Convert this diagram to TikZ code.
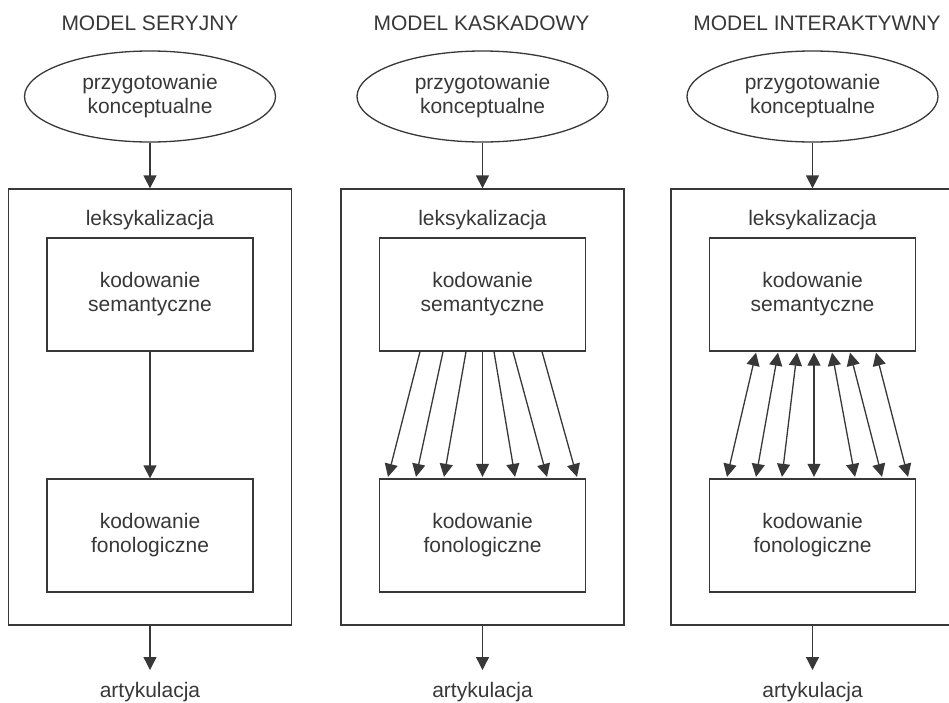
\documentclass[tikz,border=0pt]{standalone}
\usepackage{fontspec}
\setmainfont{Liberation Sans}
\usetikzlibrary{shapes.geometric,arrows.meta,calc}
\definecolor{ink}{HTML}{383838}
\begin{document}
\begin{tikzpicture}[x=1pt,y=-1pt,
  every node/.style={text=ink,font=\fontsize{21}{24}\selectfont},
  box/.style={draw=ink,line width=1.3pt,minimum width=206pt,minimum height=113pt,inner sep=0,align=center},
  outerbox/.style={draw=ink,line width=1.3pt,minimum width=283pt,minimum height=436pt,inner sep=0},
  oval/.style={ellipse,draw=ink,line width=1.3pt,minimum width=251pt,minimum height=91pt,inner sep=0,align=center},
  conn/.style={draw=ink,line width=1.3pt,-{Triangle[length=13pt,width=13pt]}},
  dconn/.style={draw=ink,line width=1.3pt,{Triangle[length=13pt,width=13pt]}-{Triangle[length=13pt,width=13pt]}},
  lbl/.style={anchor=base,inner sep=0}]
\clip (0,0) rectangle (949,702);
\fill[white] (0,0) rectangle (949,702);
\foreach \i/\cx/\tx/\ttl in {1/150/150/SERYJNY,2/482.5/481.5/KASKADOWY,3/812.5/817/INTERAKTYWNY}{
  \node[lbl] (title\i) at (\tx,30) {MODEL \ttl};
  \node[oval] (ell\i) at (\cx,96.5) {przygotowanie\\konceptualne};
  \node[outerbox] (out\i) at (\cx,407) {};
  \node[lbl] (lex\i) at (\cx,225) {leksykalizacja};
  \node[box] (sem\i) at (\cx,294.5) {kodowanie\\semantyczne};
  \node[box] (fon\i) at (\cx,535.5) {kodowanie\\fonologiczne};
  \coordinate (end\i) at (\cx,670);
  \node[lbl] (art\i) at (\cx,697) {artykulacja};
  \draw[conn] (ell\i.south) -- (out\i.north);
  \draw[conn] (out\i.south) -- (end\i);
}
% serial model
\draw[conn] (sem1.south) -- (fon1.north);
% cascade model
\foreach \a/\b in {-62.5/-94.5,-39.5/-66.5,-16.5/-38.5,0/0,11.5/32.5,30.5/64.5,59.5/94.5}
  \draw[conn] ($(sem2.south)+(\a,0)$) -- ($(fon2.north)+(\b,-1.5)$);
% interactive model
\foreach \a/\b in {-56.5/-85.5,-34.5/-56.5,-15.5/-30.5,1.5/1.5,19.5/42.5,37.5/69.5,63.5/95.5}
  \draw[dconn] ($(sem3.south)+(\a,1)$) -- ($(fon3.north)+(\b,-1.5)$);
\end{tikzpicture}
\end{document}
